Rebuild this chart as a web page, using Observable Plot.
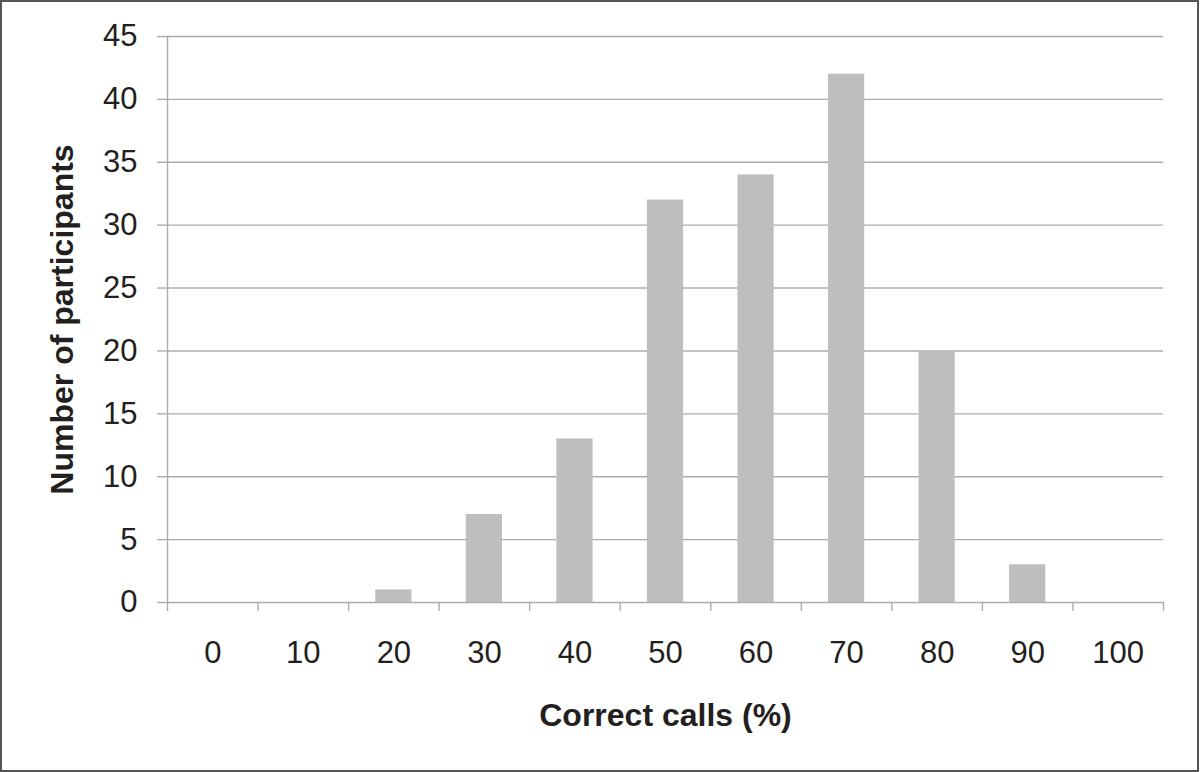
<!DOCTYPE html>
<html>
<head>
<meta charset="utf-8">
<script src="https://cdn.jsdelivr.net/npm/d3@7"></script>
<script src="https://cdn.jsdelivr.net/npm/@observablehq/plot@0.6"></script>
<style>
  html, body { margin: 0; padding: 0; background: #fff; }
  #chart svg { display: block; }
</style>
</head>
<body>
<div id="chart"></div>
<script>
// Data
const categories = [0, 10, 20, 30, 40, 50, 60, 70, 80, 90, 100];
const counts = [0, 0, 1, 7, 13, 32, 34, 42, 20, 3, 0];
const yTicks = [0, 5, 10, 15, 20, 25, 30, 35, 40, 45];
const xTitle = "Correct calls (%)";
const yTitle = "Number of participants";

const rows = categories.map((c, i) => ({cat: c, n: counts[i]}));
const binEdges = categories.map(c => c - 5).concat([categories[categories.length - 1] + 5]);

const gridColor = "#acacac";
const textColor = "#231f20";
const barColor = "#bdbec0";
const font = "'Liberation Sans', Arial, Helvetica, sans-serif";

const chart = Plot.plot({
  width: 1200,
  height: 772,
  marginLeft: 167,
  marginRight: 37,
  marginTop: 36,
  marginBottom: 170,
  style: {fontFamily: font, background: "#fff", color: textColor},
  x: {type: "linear", domain: [binEdges[0], binEdges[binEdges.length - 1]]},
  y: {domain: [0, 45]},
  marks: [
    Plot.ruleY(yTicks, {stroke: gridColor, strokeWidth: 1.4}),
    Plot.rectY(rows.filter(d => d.n > 0), {
      x1: d => d.cat - 2, x2: d => d.cat + 2, y1: 0, y2: "n", fill: barColor
    }),
    Plot.ruleX([binEdges[0]], {y1: 0, y2: 45, stroke: gridColor, strokeWidth: 1.4}),
    Plot.axisY({ticks: yTicks, tickSize: 10, tickPadding: 20, stroke: gridColor, strokeWidth: 1.4,
      fill: textColor, fontSize: 31, label: null, tickFormat: d => String(d)}),
    Plot.axisX({ticks: binEdges, tickSize: 9, stroke: gridColor, strokeWidth: 1.4,
      tickFormat: () => "", label: null}),
    Plot.axisX({ticks: categories, tickSize: 0, tickPadding: 38, fill: textColor,
      fontSize: 31, label: null, tickFormat: d => String(d)}),
    Plot.text([xTitle], {text: d => d, frameAnchor: "bottom", lineAnchor: "bottom",
      textAnchor: "middle", dy: 123, fontSize: 32, fontWeight: "bold", fill: textColor}),
    Plot.text([yTitle], {text: d => d, frameAnchor: "left", lineAnchor: "bottom",
      textAnchor: "middle", rotate: -90, dx: -95, dy: 0, fontSize: 32, fontWeight: "bold", fill: textColor})
  ]
});

// outer border around the figure
d3.select(chart).append("rect")
  .attr("x", 1).attr("y", 1).attr("width", 1197).attr("height", 770)
  .attr("fill", "none").attr("stroke", "#555").attr("stroke-width", 2);

document.getElementById("chart").appendChild(chart);
</script>
</body>
</html>
